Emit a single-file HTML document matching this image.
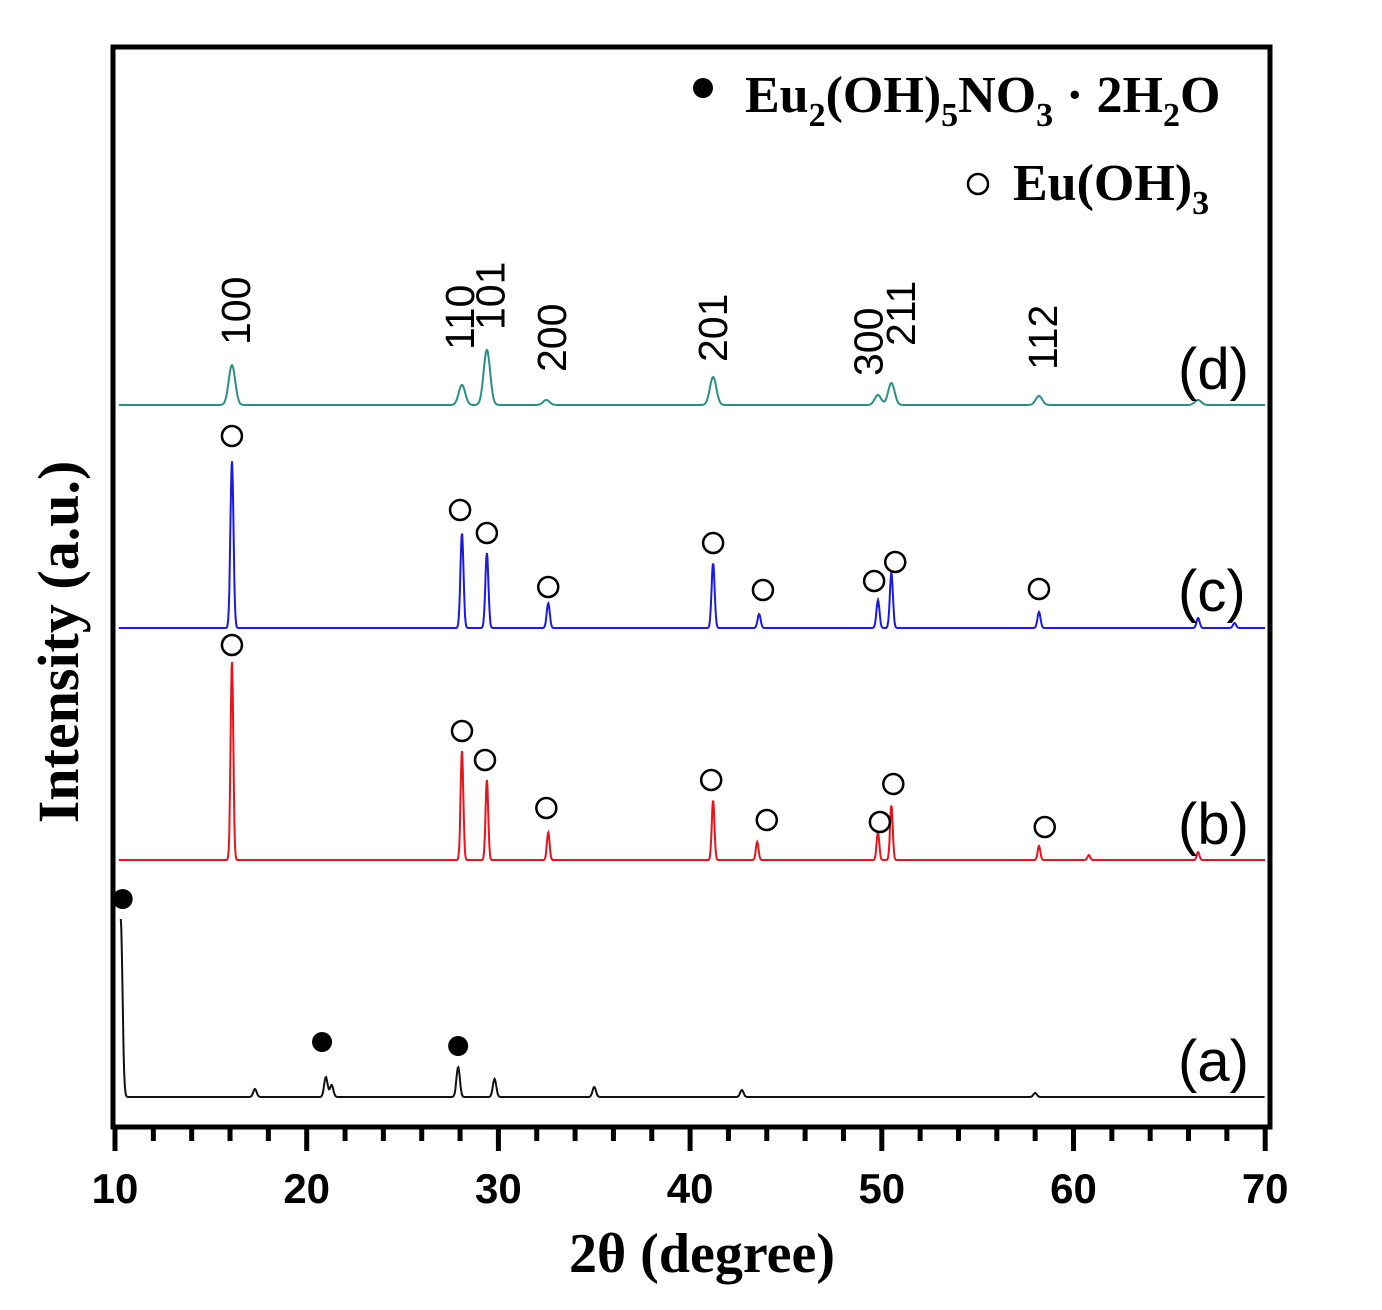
<!DOCTYPE html>
<html><head><meta charset="utf-8">
<style>
html,body{margin:0;padding:0;background:#fff;}
svg{display:block;}
.tk{font-family:"Liberation Sans",sans-serif;font-weight:bold;font-size:42px;}
.hkl{font-family:"Liberation Sans",sans-serif;font-size:41px;}
.lab{font-family:"Liberation Sans",sans-serif;font-size:58px;}
.ser{font-family:"Liberation Serif",serif;font-weight:bold;}
</style></head>
<body>
<svg id="chart" width="1382" height="1310" viewBox="0 0 1382 1310">
<g id="plot"></g>
</svg>
<script>
// Peak data: positions (2θ), heights (a.u.), widths (σ)
const posD = [16.1, 28.1, 29.4, 32.5, 41.2, 49.8, 50.5, 58.2, 66.5];
const htD  = [40, 20, 55, 5, 28, 10, 22, 9, 5];
const posC = [16.1, 28.1, 29.4, 32.6, 41.2, 43.6, 49.8, 50.5, 58.2, 66.5, 68.4];
const htC  = [168, 95, 75, 25, 65, 14, 28, 55, 16, 10, 5];
const posB = [16.1, 28.1, 29.4, 32.6, 41.2, 43.5, 49.8, 50.5, 58.2, 60.8, 66.5];
const htB  = [200, 110, 80, 28, 60, 18, 28, 55, 14, 5, 8];
const posA = [10.3, 17.3, 21.0, 21.3, 27.9, 29.8, 35.0, 42.7, 58.0];
const htA  = [178, 8, 20, 12, 30, 18, 10, 7, 4];
const offsets = [30, 267, 499, 722]; // a, b, c, d
const xTicks = [10, 20, 30, 40, 50, 60, 70];
const hklLabels = ["100","110","101","200","201","300","211","112"];
const hklPos = [16.3, 28.0, 29.6, 32.8, 41.2, 49.3, 51.0, 58.4];
const hklTop = [345, 350, 330, 372, 362, 376, 346, 370];
const circC = [[16.1,192],[28.0,118],[29.4,95],[32.6,41],[41.2,85],[43.8,38],[49.6,47],[50.7,66],[58.2,39]];
const circB = [[16.1,215],[28.1,129],[29.3,100],[32.5,52],[41.1,80],[44.0,40],[49.9,38],[50.6,76],[58.5,33]];
const dotsA = [[10.4,198],[20.8,55],[27.9,51]];

const NS = "http://www.w3.org/2000/svg";
const X0 = 115, PX = 19.17, YB = 1127;
const xs = v => X0 + (v - 10) * PX;
const ys = v => YB - v;
const g = document.getElementById('plot');
function mk(tag, attrs, parent) {
  const e = document.createElementNS(NS, tag);
  for (const k in attrs) e.setAttribute(k, attrs[k]);
  (parent || g).appendChild(e);
  return e;
}
function spectrum(pos, ht, sig, off, color, name, x0) {
  let d = "";
  for (let x = x0; x <= 70; x += 0.03) {
    let y = off;
    for (let i = 0; i < pos.length; i++) {
      const dx = (x - pos[i]) / sig;
      y += ht[i] * Math.exp(-0.5 * dx * dx);
    }
    d += (d ? "L" : "M") + xs(x).toFixed(1) + "," + ys(y).toFixed(1);
  }
  const p = mk('path', {d: d, fill: 'none', stroke: color, 'stroke-width': 2});
  
  
}
spectrum(posA, htA, 0.09, offsets[0], '#111', 'pattern-a', 10.3);
spectrum(posB, htB, 0.07, offsets[1], '#e8141c', 'pattern-b', 10.2);
spectrum(posC, htC, 0.08, offsets[2], '#1a1ae0', 'pattern-c', 10.2);
spectrum(posD, htD, 0.17, offsets[3], '#2a8f86', 'pattern-d', 10.2);

// frame
const fr = mk('rect', {x: 113, y: 47, width: 1157, height: 1080, fill: 'none', stroke: '#000', 'stroke-width': 5});


// ticks
for (let v = 10; v <= 70; v += 2) {
  const major = v % 10 === 0;
  const t = mk('line', {x1: xs(v), x2: xs(v), y1: YB, y2: YB + (major ? 24 : 14), stroke: '#000', 'stroke-width': 5});
  
  
}
xTicks.forEach(v => {
  const t = mk('text', {x: xs(v), y: 1203, 'text-anchor': 'middle', class: 'tk'});
  t.textContent = v;
  
  
});
// hkl labels
hklLabels.forEach((s, i) => {
  const x = xs(hklPos[i]) + 14, y = hklTop[i];
  const t = mk('text', {x: x, y: y, transform: `rotate(-90 ${x} ${y})`, class: 'hkl'});
  t.textContent = s;
  
  
});
// markers
circC.forEach(c => {
  const m = mk('circle', {cx: xs(c[0]), cy: ys(offsets[2] + c[1]), r: 10, fill: '#fff', stroke: '#000', 'stroke-width': 2.5});
  
  
});
circB.forEach(c => {
  const m = mk('circle', {cx: xs(c[0]), cy: ys(offsets[1] + c[1]), r: 10, fill: '#fff', stroke: '#000', 'stroke-width': 2.5});
  
  
});
dotsA.forEach(c => {
  const m = mk('circle', {cx: xs(c[0]), cy: ys(offsets[0] + c[1]), r: 10, fill: '#000'});
  
  
});
// series labels
[['(a)',1077],['(b)',840],['(c)',607],['(d)',385]].forEach(l => {
  const t = mk('text', {x: 1178, y: l[1] + 4, class: 'lab'});
  t.textContent = l[0];
  
  
});
</script>
<svg style="position:absolute;left:0;top:0" width="1382" height="1310">
<circle cx="703" cy="88" r="10" fill="#000"/>
<text x="745" y="112" class="ser" font-size="52">Eu<tspan font-size="34" dy="14">2</tspan><tspan dy="-14">(OH)</tspan><tspan font-size="34" dy="14">5</tspan><tspan dy="-14">NO</tspan><tspan font-size="34" dy="14">3</tspan><tspan dy="-14"> · 2H</tspan><tspan font-size="34" dy="14">2</tspan><tspan dy="-14">O</tspan></text>
<circle cx="978" cy="184" r="10" fill="#fff" stroke="#000" stroke-width="2.5"/>
<text x="1013" y="200" class="ser" font-size="52">Eu(OH)<tspan font-size="34" dy="14">3</tspan></text>
<text x="78" y="642" transform="rotate(-90 78 642)" text-anchor="middle" class="ser" font-size="58">Intensity (a.u.)</text>
<text x="702" y="1272" text-anchor="middle" class="ser" font-size="56">2θ (degree)</text>
</svg>
</body></html>
